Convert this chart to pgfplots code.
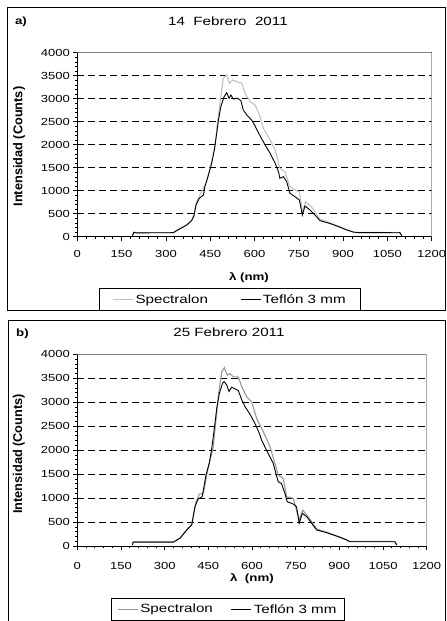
\documentclass[border=0pt]{standalone}
\usepackage{pgfplots}
\pgfplotsset{compat=1.18}
\usepackage{fontspec}
\setmainfont{Liberation Sans}
% the reference is stretched sideways, so is its horizontal text
\newfontfamily\wide{Liberation Sans}[FakeStretch=1.27]
\definecolor{spa}{HTML}{C0C0C0}
\definecolor{spb}{HTML}{969696}
\pgfplotsset{
  panel/.style={
    scale only axis,
    xmin=0, xmax=1200, ymin=0, ymax=4000,
    xtick={0,150,...,1200}, ytick={0,500,...,4000},
    minor x tick num=4, minor y tick num=4,
    axis x line*=bottom, axis y line*=left,
    axis line style={black, line width=0.8pt},
    tick align=outside, major tick length=4bp, minor tick length=2.5bp,
    tick style={black, line width=0.6pt},
    ymajorgrids, grid style={black, line width=0.7pt, dash pattern=on 6.5bp off 4.5bp},
    /pgf/number format/assume math mode=true,
    /pgf/number format/set thousands separator={},
    tick label style={font=\wide\fontsize{10.3}{12}\selectfont},
    ylabel={Intensidad (Counts)},
    ylabel style={font=\fontsize{12.8}{14}\selectfont\bfseries, anchor=center},
    xlabel style={font=\wide\fontsize{10.5}{12}\selectfont\bfseries, anchor=center},
    title style={font=\wide\fontsize{12}{14}\selectfont, anchor=center},
    legend columns=2,
    legend cell align=left,
    legend image code/.code={\draw[#1] (0bp,0bp) -- (20bp,0bp);},
    legend style={draw=black, line width=0.6pt, font=\wide\fontsize{12}{14}\selectfont,
      anchor=north, inner ysep=4bp},
  }
}
\begin{document}
\begin{tikzpicture}
\useasboundingbox (0,0) rectangle (447bp,621bp);
\draw[black, line width=0.8pt] (7.5bp,311bp) rectangle (445.5bp,614bp);
\draw[black, line width=0.8pt] (8.5bp,-5bp) rectangle (445.5bp,301bp);
\node[font=\wide\fontsize{10.5}{12}\selectfont\bfseries] at (21bp,599bp) {a)};
\node[font=\wide\fontsize{10.5}{12}\selectfont\bfseries] at (22.5bp,287bp) {b)};

% panel a
\begin{axis}[panel,
  at={(77.3bp,384.3bp)}, anchor=south west, width=354.4bp, height=184bp,
  xticklabel style={yshift=-6bp},
  title={14\ \ Febrero\ \ 2011},
  title style={at={(axis description cs:0.425,1.14)}},
  xlabel={λ (nm)},
  xlabel style={at={(axis description cs:0.4845,-0.2245)}},
  ylabel style={at={(axis description cs:-0.1645,0.49)}},
  legend style={at={(axis description cs:0.431,-0.279)}, inner xsep=13bp,
    /tikz/every even column/.append style={column sep=30bp}},
]
\addplot[spa, line width=1.1pt] coordinates {(187,30) (191,100) (200,85) (250,88) (325,90) (342,170) (370,260) (387,360) (395,480) (404,761) (421,978) (430,1100) (438,1196) (452,1559) (466,1957) (475,2500) (483,2900) (489,3189) (494,3443) (506,3515) (515,3334) (526,3406) (540,3370) (557,3334) (568,3117) (585,2935) (602,2863) (616,2660) (630,2357) (653,2102) (670,1885) (686,1487) (703,1413) (720,1087) (737,1015) (752,978) (763,543) (773,761) (794,639) (822,378) (856,300) (890,215) (912,155) (935,100) (950,92) (1025,92) (1087,88) (1092,92) (1099,22)};
\addlegendentry{Spectralon}
\addplot[black, line width=0.9pt] coordinates {(187,20) (191,95) (200,82) (250,85) (300,85) (325,88) (342,150) (370,250) (387,348) (395,450) (402,690) (413,834) (427,906) (432,1087) (444,1341) (455,1595) (464,1885) (472,2248) (478,2537) (486,2826) (497,3043) (506,3130) (514,3009) (520,3080) (528,2993) (543,3009) (554,2957) (562,2754) (574,2646) (590,2537) (600,2430) (619,2190) (636,1993) (653,1812) (670,1595) (681,1413) (686,1270) (698,1304) (709,1196) (720,943) (737,870) (752,797) (762,471) (771,667) (788,580) (805,471) (822,348) (856,286) (890,204) (912,146) (935,100) (950,90) (1025,90) (1087,85) (1092,90) (1099,22)};
\addlegendentry{Teflón 3 mm}
\draw[gray, line width=0.9pt] (rel axis cs:0,1) -- (rel axis cs:1,1) -- (rel axis cs:1,0);
\end{axis}

% panel b
\begin{axis}[panel,
  at={(77.3bp,75bp)}, anchor=south west, width=349.4bp, height=191.7bp,
  xticklabel style={yshift=-9bp},
  title={25 Febrero 2011},
  title style={at={(axis description cs:0.434,1.085)}},
  xlabel={λ\ \ (nm)},
  xlabel style={at={(axis description cs:0.5,-0.172)}},
  ylabel style={at={(axis description cs:-0.167,0.48)}},
  legend style={at={(axis description cs:0.431,-0.271)}, inner xsep=6bp,
    /tikz/every even column/.append style={column sep=16bp}},
]
\addplot[spb, line width=1.1pt] coordinates {(189,20) (192,85) (250,85) (330,85) (353,170) (376,345) (393,450) (408,924) (419,1084) (433,1098) (445,1500) (456,1792) (467,2069) (484,3111) (490,3390) (496,3631) (505,3723) (515,3563) (524,3598) (536,3528) (553,3528) (565,3320) (582,3111) (599,3007) (616,2660) (639,2382) (662,2069) (682,1653) (690,1479) (707,1410) (719,1028) (742,994) (762,542) (774,751) (793,612) (822,355) (856,290) (896,200) (925,130) (936,95) (1091,95) (1097,21)};
\addlegendentry{Spectralon}
\addplot[black, line width=0.9pt] coordinates {(189,20) (192,80) (250,80) (330,80) (353,161) (376,334) (393,438) (404,820) (415,981) (429,1029) (442,1482) (453,1726) (461,2004) (470,2422) (479,2875) (488,3188) (499,3397) (504,3432) (513,3363) (521,3223) (530,3313) (545,3271) (553,3242) (565,3048) (576,2909) (593,2750) (610,2560) (625,2352) (633,2208) (650,2000) (673,1722) (682,1514) (690,1340) (701,1306) (713,1098) (721,924) (742,876) (753,820) (762,473) (773,681) (788,612) (805,473) (822,334) (856,278) (896,195) (925,125) (936,88) (1091,88) (1097,21)};
\addlegendentry{Teflón 3 mm}
\draw[gray, line width=0.9pt] (rel axis cs:0,1) -- (rel axis cs:1,1) -- (rel axis cs:1,0);
\end{axis}
\end{tikzpicture}
\end{document}
